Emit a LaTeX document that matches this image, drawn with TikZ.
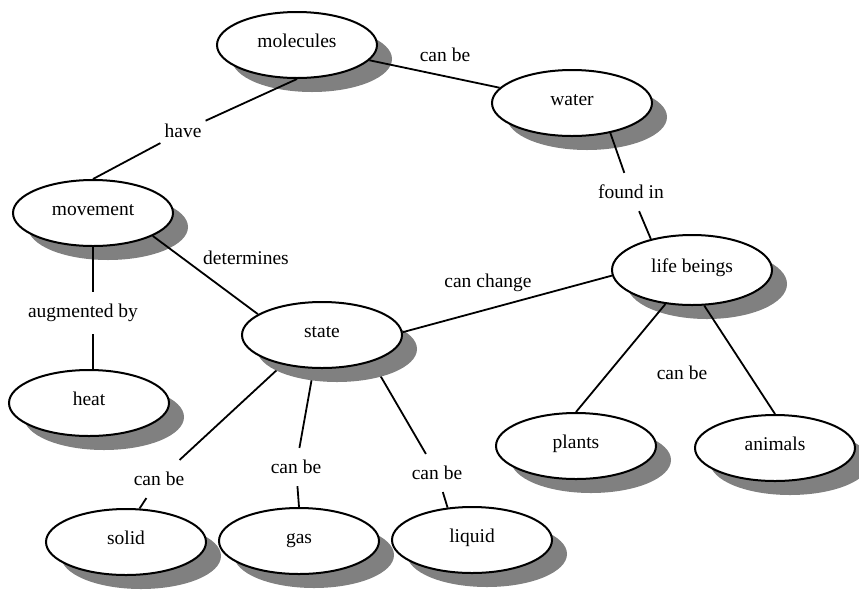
\documentclass[tikz,border=0pt]{standalone}
\usepackage{fontspec}
\setmainfont{Liberation Serif}
\usetikzlibrary{shapes.geometric,shadows,backgrounds}

\tikzset{
  concept/.style={ellipse, draw, line width=2pt, fill=white,
    minimum width=160pt, minimum height=66pt, inner sep=0pt,
    text height=12pt, text depth=8pt,
    drop shadow={shadow xshift=15pt, shadow yshift=-14pt, fill=black!50, opacity=1}},
  lbl/.style={inner xsep=4pt, inner ysep=12pt},
  link/.style={line width=1.8pt}
}

\begin{document}
\begin{tikzpicture}[x=1pt, y=-1pt, font=\fontsize{19.5}{23}\selectfont]
                \useasboundingbox (0,0) rectangle (859,590);

                % Pojecia (elipsy z cieniem)
                \node[concept] (molecules) at (297,45) {molecules};
                \node[concept] (water) at (572,103) {water};
                \node[concept] (movement) at (93,213) {movement};
                \node[concept] (heat) at (89,403) {heat};
                \node[concept] (state) at (322,335) {state};
                \node[concept, minimum height=70pt] (lifebeings) at (692,270) {life beings};
                \node[concept] (plants) at (576,446) {plants};
                \node[concept] (animals) at (775,448) {animals};
                \node[concept] (solid) at (126,542) {solid};
                \node[concept] (gas) at (299,541) {gas};
                \node[concept] (liquid) at (472,540) {liquid};

                % Etykiety polaczen
                \node[lbl] (canbeMW) at (445,55) {can be};
                \node[lbl] (have) at (183,131) {have};
                \node[lbl] (determines) at (246,258) {determines};
                \node[lbl] (foundin) at (631,192) {found in};
                \node[lbl] (canchange) at (488,283) {can change};
                \node[lbl] (augmented) at (83,313) {augmented by};
                \node[lbl] (canbeLB) at (682,373) {can be};
                \node[lbl] (canbeS) at (159,479) {can be};
                \node[lbl] (canbeG) at (296,467) {can be};
                \node[lbl] (canbeL) at (437,473) {can be};

                % Polaczenia
                \draw[link] (molecules) -- (water);
                \draw[link] (molecules.south) -- (have);
                \draw[link] (have) -- (movement.north);
                \draw[link] (movement.-21) -- (state.162);
                \draw[link] (water.-38) -- (foundin);
                \draw[link] (foundin) -- (lifebeings.143);
                \draw[link] (state.2) -- (lifebeings.184);
                \draw[link] (movement.south) -- (movement.south |- augmented.north);
                \draw[link] (movement.south |- augmented.south) -- (movement.south |- heat.north);
                \draw[link] (lifebeings.-128) -- (plants.north);
                \draw[link] (lifebeings.-71) -- (animals.north);

                % Linie pod cieniem elipsy state
                \begin{pgfonlayer}{background}
                    \draw[link] (state.217) -- (canbeS);
                    \draw[link] (canbeS) -- (solid.68);
                    \draw[link] (state.256) -- (canbeG);
                    \draw[link] (canbeG) -- (gas.north);
                    \draw[link] (state.-28) -- (canbeL);
                    \draw[link] (canbeL) -- (liquid.127);
                \end{pgfonlayer}
\end{tikzpicture}
\end{document}
